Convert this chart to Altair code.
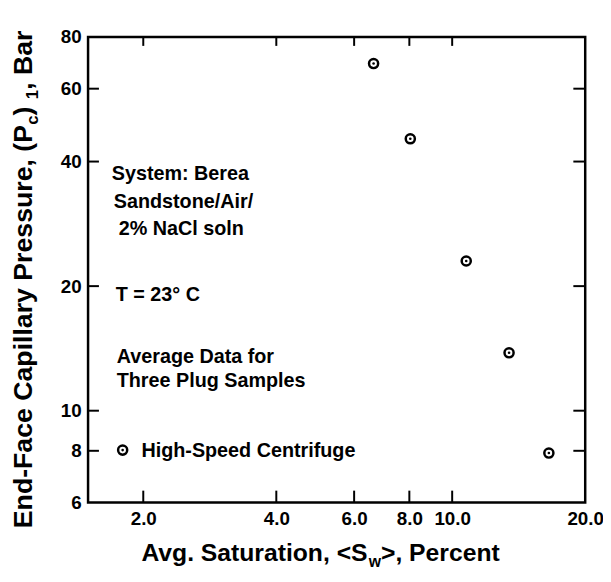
import altair as alt
import pandas as pd

# ---- data ----
saturation = [6.64, 8.04, 10.76, 13.45, 16.55]          # Avg. saturation, percent
pressure = [69.0, 45.4, 23.0, 13.8, 7.9]                # end-face capillary pressure, bar
x_ticks = [2, 4, 6, 8, 10, 20]
y_ticks = [6, 8, 10, 20, 40, 60, 80]
x_inner_ticks = [2, 4, 6, 8, 10]
y_inner_ticks = [8, 10, 20, 40, 60]
annot_lines = ["System: Berea", "Sandstone/Air/", "2% NaCl soln",
               "T = 23° C", "Average Data for", "Three Plug Samples"]
legend_label = ["High-Speed Centrifuge"]
ytitle_parts = ["End-Face Capillary Pressure, (P", "c", " )", "1", " , Bar"]
xtitle_parts = ["Avg. Saturation, <S", "w", ">, Percent"]

FONT = "Liberation Sans"
W, H = 503, 471
PL, PT = 81, 26   # padding left/top -> plot origin at page (89, 34)

# Arial/Helvetica Bold advance widths (1/1000 em)
AW = {' ': 278, '(': 333, ')': 333, ',': 278, '-': 333, '.': 278, '<': 584, '>': 584,
      '1': 556, 'A': 722, 'B': 722, 'C': 722, 'E': 667, 'F': 611, 'P': 667, 'S': 667,
      'a': 556, 'c': 556, 'd': 611, 'e': 556, 'g': 611, 'i': 278, 'l': 278, 'n': 611,
      'o': 611, 'p': 611, 'r': 389, 's': 556, 't': 333, 'u': 611, 'v': 556, 'w': 778,
      'y': 556}


def tw(s, size):
    return sum(AW.get(ch, 556) for ch in s) * size / 1000.0


xscale = alt.Scale(type="log", domain=[1.5, 20], nice=False)
yscale = alt.Scale(type="log", domain=[6, 80], nice=False)

xaxis = alt.Axis(values=x_ticks, format=".1f", tickSize=0, domain=False, grid=False,
                 labelFont=FONT, labelFontSize=19, labelFontWeight="bold",
                 labelColor="black", labelPadding=7, labelFlush=False,
                 labelOverlap=False, labelBound=False, title=None)
yaxis = alt.Axis(values=y_ticks, format="d", tickSize=0, domain=False, grid=False,
                 labelFont=FONT, labelFontSize=19, labelFontWeight="bold",
                 labelColor="black", labelPadding=7, labelFlush=False,
                 labelOverlap=False, labelBound=False, title=None)

X = alt.X("s:Q", scale=xscale, axis=xaxis)
Y = alt.Y("p:Q", scale=yscale, axis=yaxis)

df = pd.DataFrame({"s": saturation, "p": pressure})

rings = alt.Chart(df).mark_point(shape="circle", filled=False, color="black",
                                 strokeWidth=2.5, size=85, opacity=1).encode(x=X, y=Y)
dots = alt.Chart(df).mark_point(shape="circle", filled=True, color="black",
                                size=7, opacity=1).encode(x=X, y=Y)

ydf = pd.DataFrame({"p": y_inner_ticks})
xdf = pd.DataFrame({"s": x_inner_ticks})
left_ticks = alt.Chart(ydf).mark_rule(color="black", strokeWidth=2).encode(
    y=Y, x=alt.value(0), x2=alt.value(11))
right_ticks = alt.Chart(ydf).mark_rule(color="black", strokeWidth=2).encode(
    y=Y, x=alt.value(W - 12), x2=alt.value(W))
bottom_ticks = alt.Chart(xdf).mark_rule(color="black", strokeWidth=2).encode(
    x=X, y=alt.value(H - 12), y2=alt.value(H))
top_ticks = alt.Chart(xdf).mark_rule(color="black", strokeWidth=2).encode(
    x=X, y=alt.value(0), y2=alt.value(9))

layers = [rings, dots, left_ticks, right_ticks, bottom_ticks, top_ticks]


def text_layer(txt, px, py, size, angle=0):
    kw = dict(align="left", baseline="alphabetic", font=FONT, fontSize=size,
              fontWeight="bold", color="black")
    if angle:
        kw["angle"] = angle
    return alt.Chart(pd.DataFrame({"t": [txt]})).mark_text(**kw).encode(
        text="t:N", x=alt.value(px), y=alt.value(py))


# annotation block (page coords -> plot coords)
ann_pos = [(113, 179), (115, 207), (120, 234), (117, 301), (118, 364), (118, 388)]
for line, (px, py) in zip(annot_lines, ann_pos):
    layers.append(text_layer(line, px - 89, py - 34, 20))

# legend entry
leg = pd.DataFrame({"t": legend_label})
layers.append(alt.Chart(leg).mark_point(shape="circle", filled=False, color="black",
                                        strokeWidth=2.5, size=85, opacity=1).encode(
    x=alt.value(124 - 89), y=alt.value(452 - 34)))
layers.append(alt.Chart(leg).mark_point(shape="circle", filled=True, color="black",
                                        size=7, opacity=1).encode(
    x=alt.value(124 - 89), y=alt.value(452 - 34)))
layers.append(text_layer(legend_label[0], 143 - 89, 459 - 34, 20))

# x axis title with subscript
xs, xb = 143 - 89, 564 - 34
big, small = 25, 16
cur = xs
for i, part in enumerate(xtitle_parts):
    if i == 1:
        layers.append(text_layer(part, cur, xb + 6, small))
        cur += tw(part, small)
    else:
        layers.append(text_layer(part, cur, xb, big))
        cur += tw(part, big)

# y axis title (rotated) with subscripts
yb_x = 32 - 89       # baseline x
cur = 531 - 34       # start (bottom) y
big, small = 27, 17
for i, part in enumerate(ytitle_parts):
    if i in (1, 3):
        layers.append(text_layer(part, yb_x + 6, cur, small, angle=270))
        cur -= tw(part, small)
    else:
        layers.append(text_layer(part, yb_x, cur, big, angle=270))
        cur -= tw(part, big)

chart = alt.layer(*layers).properties(
    width=W, height=H,
    autosize=alt.AutoSizeParams(type="none"),
    padding={"left": PL, "top": PT, "right": 18, "bottom": 68},
    background="white",
).configure_view(stroke="black", strokeWidth=2.5)

chart.save("out.html", embed_options={"renderer": "svg", "actions": False})
